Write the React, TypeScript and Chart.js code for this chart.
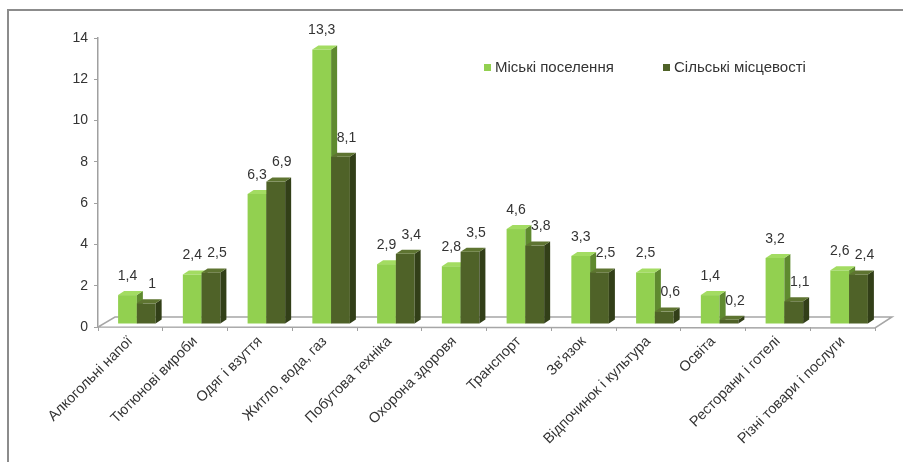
import React, { useEffect, useRef } from "react";
import { Chart, registerables } from "chart.js";

Chart.register(...registerables);

const categories = [
  "Алкогольні напої",
  "Тютюнові вироби",
  "Одяг і взуття",
  "Житло, вода, газ",
  "Побутова техніка",
  "Охорона здоровя",
  "Транспорт",
  "Зв’язок",
  "Відпочинок і культура",
  "Освіта",
  "Ресторани і готелі",
  "Різні товари і послуги",
];
const urbanValues = [1.4, 2.4, 6.3, 13.3, 2.9, 2.8, 4.6, 3.3, 2.5, 1.4, 3.2, 2.6];
const ruralValues = [1, 2.5, 6.9, 8.1, 3.4, 3.5, 3.8, 2.5, 0.6, 0.2, 1.1, 2.4];
const seriesNames = ["Міські поселення", "Сільські місцевості"];
const yTicks = { min: 0, max: 14, step: 2 };

const FONT = "'Liberation Sans', Arial, sans-serif";
const TEXT = "#333333";
const GREEN = { front: "#92d050", side: "#5f8a2f", top: "#a3dc62" };
const DARK = { front: "#4f6228", side: "#323f18", top: "#5e7431" };
const PALETTES = [GREEN, DARK];
const SHIFT_X = 6.5;
const SHIFT_Y = -3;
const DEPTH_X = 6;
const DEPTH_Y = 4;

const fmt = (v: number) => String(v).replace(".", ",");

const threeD = {
  id: "threeD",
  beforeDatasetsDraw(chart: any) {
    const { ctx, chartArea } = chart;
    const y0 = chart.scales.y.getPixelForValue(0);
    ctx.save();
    ctx.strokeStyle = "#8c8c8c";
    ctx.lineWidth = 2;
    ctx.strokeRect(8, 10, 1000, 600);
    ctx.strokeStyle = "#a6a6a6";
    ctx.lineWidth = 1.5;
    ctx.beginPath();
    ctx.moveTo(chartArea.left, y0);
    ctx.lineTo(chartArea.right, y0 + 1);
    ctx.lineTo(chartArea.right + 17, y0 - 10);
    ctx.lineTo(chartArea.left + 17, y0 - 10);
    ctx.closePath();
    ctx.stroke();
    ctx.restore();
  },
  afterDatasetsDraw(chart: any) {
    const { ctx } = chart;
    const metas = chart.data.datasets.map((_: any, di: number) => chart.getDatasetMeta(di));
    ctx.save();
    ctx.translate(SHIFT_X, SHIFT_Y);
    categories.forEach((_, i) => {
      metas.forEach((meta: any, di: number) => {
        const bar = meta.data[i];
        const c = PALETTES[di];
        const w = bar.width;
        const l = bar.x - w / 2;
        const r = bar.x + w / 2;
        const t = bar.y;
        const b = bar.base;
        ctx.fillStyle = c.front;
        ctx.fillRect(l, t, w, b - t);
        ctx.fillStyle = c.side;
        ctx.beginPath();
        ctx.moveTo(r, t);
        ctx.lineTo(r + DEPTH_X, t - DEPTH_Y);
        ctx.lineTo(r + DEPTH_X, b - DEPTH_Y);
        ctx.lineTo(r, b);
        ctx.closePath();
        ctx.fill();
        ctx.fillStyle = c.top;
        ctx.beginPath();
        ctx.moveTo(l, t);
        ctx.lineTo(l + DEPTH_X, t - DEPTH_Y);
        ctx.lineTo(r + DEPTH_X, t - DEPTH_Y);
        ctx.lineTo(r, t);
        ctx.closePath();
        ctx.fill();
      });
    });
    ctx.restore();

    ctx.save();
    ctx.font = `14px ${FONT}`;
    ctx.fillStyle = TEXT;
    ctx.textAlign = "center";
    ctx.textBaseline = "middle";
    chart.data.datasets.forEach((ds: any, di: number) => {
      const meta = metas[di];
      meta.data.forEach((bar: any, i: number) => {
        const off = di === 0 ? 0 : 6;
        ctx.fillText(fmt(ds.data[i]), bar.x + SHIFT_X + off, bar.y + SHIFT_Y - 19);
      });
    });
    ctx.textAlign = "left";
    ctx.font = `15px ${FONT}`;
    const items = [
      { x: 484, color: GREEN.front, label: seriesNames[0] },
      { x: 663, color: DARK.front, label: seriesNames[1] },
    ];
    items.forEach((it) => {
      ctx.fillStyle = it.color;
      ctx.fillRect(it.x, 64, 7, 7);
      ctx.fillStyle = TEXT;
      ctx.fillText(it.label, it.x + 11, 68);
    });
    ctx.restore();
  },
};

export default function App() {
  const ref = useRef<HTMLCanvasElement | null>(null);
  useEffect(() => {
    if (!ref.current) return;
    const chart = new Chart(ref.current, {
      type: "bar",
      data: {
        labels: categories,
        datasets: [
          { label: seriesNames[0], data: urbanValues, backgroundColor: "rgba(0,0,0,0)" },
          { label: seriesNames[1], data: ruralValues, backgroundColor: "rgba(0,0,0,0)" },
        ],
      },
      options: {
        responsive: false,
        animation: false,
        devicePixelRatio: 1,
        layout: { padding: { top: 38, right: 28, left: 0, bottom: 0 } },
        datasets: { bar: { categoryPercentage: 0.58, barPercentage: 1 } },
        plugins: { legend: { display: false }, tooltip: { enabled: false } },
        scales: {
          x: {
            grid: { offset: true, drawOnChartArea: false, tickLength: 4, color: "#a0a0a0" },
            border: { display: false },
            ticks: {
              autoSkip: false,
              maxRotation: 45,
              minRotation: 45,
              color: TEXT,
              font: { family: FONT, size: 14.5 },
              padding: 2,
            },
            afterFit: (scale: any) => {
              scale.height = 135;
              scale.paddingLeft = 0;
              scale.paddingRight = 0;
            },
          },
          y: {
            min: yTicks.min,
            max: yTicks.max,
            ticks: {
              stepSize: yTicks.step,
              color: TEXT,
              font: { family: FONT, size: 14 },
              padding: 6,
            },
            grid: { drawOnChartArea: false, tickLength: 4, color: "#a0a0a0" },
            border: { display: true, color: "#a0a0a0", width: 1.5 },
            afterFit: (scale: any) => {
              scale.width = 98;
            },
          },
        },
      },
      plugins: [threeD],
    });
    return () => chart.destroy();
  }, []);
  return (
    <canvas
      ref={ref}
      width={903}
      height={462}
      style={{ position: "fixed", left: 0, top: 0, width: 903, height: 462 }}
    />
  );
}
